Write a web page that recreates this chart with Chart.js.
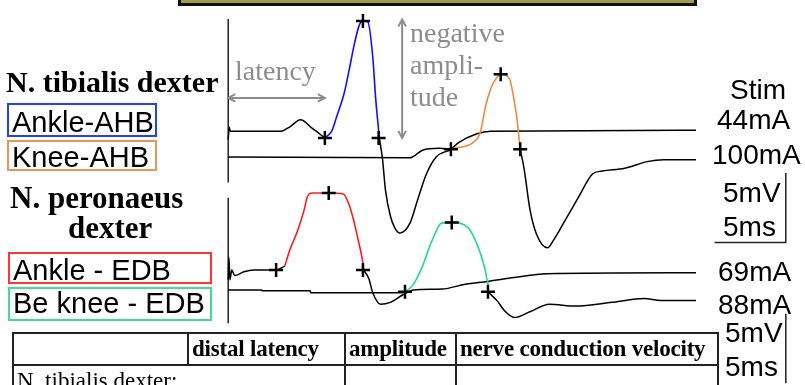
<!DOCTYPE html>
<html>
<head>
<meta charset="utf-8">
<script src="https://cdn.jsdelivr.net/npm/chart.js@4.4.1/dist/chart.umd.min.js"></script>
<style>
  body { margin: 0; background: #fff; }
  #wrap { position: relative; width: 805px; height: 385px; overflow: hidden; background: #fff; }
  #traces { position: absolute; left: 0; top: 0; }
  .t { position: absolute; white-space: nowrap; line-height: 1; }
  .sans { font-family: 'Liberation Sans', Arial, sans-serif; font-size: 28px; color: #000; }
  .serif { font-family: 'Liberation Serif', 'Times New Roman', serif; }
  .title { font-weight: bold; font-size: 30px; color: #000; }
  .note { font-size: 28px; color: #8c8c8c; }
  .box { position: absolute; box-sizing: border-box; border: 2px solid; padding-left: 3px;
         font-family: 'Liberation Sans', Arial, sans-serif; font-size: 29px; white-space: nowrap; }
  #banner { position: absolute; left: 178px; top: -14px; width: 519px; height: 20px; box-sizing: border-box;
            border: 3px solid #111; background: #a39b4c; }
  table { position: absolute; left: 12px; top: 332px; border-collapse: collapse; table-layout: fixed;
          font-family: 'Liberation Serif', 'Times New Roman', serif; font-size: 23px; }
  td { border: 2px solid #222; height: 30px; padding: 0 0 0 3px; white-space: nowrap; overflow: hidden; }
  thead td { font-weight: bold; letter-spacing: -0.2px; }
</style>
</head>
<body>
<div id="wrap">
  <canvas id="traces" width="805" height="385"></canvas>
  <div id="banner"></div>

  <div class="t serif title" style="left:6px; top:67px;">N. tibialis dexter</div>
  <div class="t serif title" style="left:10px; top:182px; font-size:31px;">N. peronaeus</div>
  <div class="t serif title" style="left:68px; top:212px; font-size:31px;">dexter</div>

  <div class="t serif note" style="left:235px; top:57px;">latency</div>
  <div class="t serif note" style="left:410px; top:17px; line-height:32px;">negative<br>ampli-<br>tude</div>

  <div class="box" style="left:7px; top:103px; width:150px; height:34px; border-color:#2040ff; line-height:34px;">Ankle-AHB</div>
  <div class="box" style="left:7px; top:140px; width:150px; height:31px; border-color:#e8955a; line-height:30px;">Knee-AHB</div>
  <div class="box" style="left:8px; top:252px; width:204px; height:32px; border-color:#ff3535; line-height:32px;">Ankle - EDB</div>
  <div class="box" style="left:8px; top:287px; width:204px; height:34px; border-color:#3fdc95; line-height:28px;">Be knee - EDB</div>

  <div id="rightLabels"></div>

  <table id="results">
    <colgroup><col style="width:175px"><col style="width:157px"><col style="width:111px"><col style="width:262px"></colgroup>
    <thead><tr id="headRow"></tr></thead>
    <tbody><tr><td colspan="2">N. tibialis dexter:</td><td></td><td></td></tr></tbody>
  </table>
</div>

<script>
// time in ms after the stimulus, voltage in mV (traces stacked, negative up)
const tibAnklePre  = [[0,16.99],[0.07,17.9],[0.14,17.6],[3.7,17.6],[4.3,17.9],[5.07,18.42],[5.9,17.8],[6.78,17.12]];
const tibAnkleResp = [[6.78,17.12],[7.26,17.6],[7.6,18.63],[8.15,20.41],[8.49,22.05],[8.84,23.84],[9.18,25.21],[9.45,25.55],[9.79,25.48],[10.14,22.95],[10.34,20.0],[10.55,17.67],[10.6,17.12]];
const tibAnklePost = [[10.6,17.12],[10.82,15.62],[11.03,13.36],[11.37,11.51],[11.7,10.6],[12.05,10.27],[12.74,10.96],[13.29,12.67],[13.9,14.52],[14.59,15.75],[15.62,16.3],[16.16,16.78],[17.4,17.4],[18.42,17.6],[32.81,17.67]];

const tibKneePre  = [[0,15.75],[12.74,15.68],[13.63,16.23],[14.79,16.37],[15.62,16.3]];
const tibKneeResp = [[15.62,16.3],[17.4,16.99],[17.67,17.47],[18.08,19.52],[18.42,20.68],[18.77,21.37],[19.11,21.71],[19.73,21.37],[20.07,19.73],[20.27,18.36],[20.41,16.99],[20.48,16.3]];
const tibKneePost = [[20.48,16.3],[20.75,14.93],[21.16,11.99],[21.64,10.14],[22.4,9.2],[22.81,9.73],[23.7,11.3],[24.59,12.88],[25.55,14.52],[26.23,14.73],[27.81,14.93],[29.38,15.41],[30.55,15.55],[32.81,15.55]];

const perAnklePre  = [[0,6.9],[0.05,8.5],[0.12,6.9],[0.25,7.6],[0.45,7.2],[1.1,7.47],[1.78,7.6],[3.36,7.6],[3.97,7.88]];
const perAnkleResp = [[3.97,7.88],[4.32,9.04],[4.86,10.41],[5.34,11.99],[5.55,12.88],[5.89,13.15],[7.05,13.15],[8.08,13.08],[8.42,12.47],[8.77,11.3],[9.11,9.79],[9.45,8.08],[9.5,7.6]];
const perAnklePost = [[9.5,7.6],[9.86,6.99],[10.14,5.96],[10.68,5.14],[11.37,5.27],[12.26,5.82],[13.0,6.16],[15.0,6.23],[16.64,6.58],[18.22,6.78],[20.07,7.06],[22.33,7.33],[32.81,7.4]];

const perKneePre  = [[0,6.16],[2.33,6.16],[2.4,6.1],[5.75,6.1],[5.8,5.96],[12.26,5.96]];
const perKneeResp = [[12.26,5.96],[12.95,6.51],[13.63,7.88],[14.11,9.25],[14.59,10.41],[14.93,10.96],[15.68,11.03],[16.85,10.62],[17.53,9.25],[18.01,7.67],[18.22,6.71],[18.22,6.03]];
const perKneePost = [[18.22,6.03],[18.9,5.34],[19.38,4.66],[20.07,4.18],[21.16,4.59],[22.53,5.14],[24.38,5.0],[26.92,5.27],[29.18,5.55],[30.34,5.41],[32.81,5.41]];

// onset / peak / end markers
const markers = [[6.78,17.12],[9.45,25.55],[10.55,17.12],[15.62,16.3],[19.11,21.71],[20.48,16.3],
                 [3.36,7.6],[7.05,13.15],[9.45,7.6],[12.4,6.03],[15.68,11.03],[18.22,6.03]];

// stimulus time lines for the two panels
const stimUpper = [[0,25.68],[0,13.9]];
const stimLower = [[0,12.81],[0,3.77]];

const stimCurrents = ['44mA', '100mA', '69mA', '88mA'];
const tableHeader = ['', 'distal latency', 'amplitude', 'nerve conduction velocity'];

// right-hand labels
const labelPos = [
  ['Stim', 730, 76], [stimCurrents[0], 717, 106], [stimCurrents[1], 712, 141],
  ['5mV', 723, 179], ['5ms', 723, 213],
  [stimCurrents[2], 718, 258], [stimCurrents[3], 718, 291],
  ['5mV', 725, 319], ['5ms', 725, 353]
];
const rl = document.getElementById('rightLabels');
labelPos.forEach(([txt, x, y]) => {
  const d = document.createElement('div');
  d.className = 't sans';
  d.style.left = x + 'px';
  d.style.top = y + 'px';
  d.textContent = txt;
  rl.appendChild(d);
});
const hr = document.getElementById('headRow');
tableHeader.forEach(h => {
  const td = document.createElement('td');
  td.textContent = h;
  hr.appendChild(td);
});

function trace(data, color, width, order) {
  return { data: data, borderColor: color, borderWidth: width, showLine: true,
           pointRadius: 0, cubicInterpolationMode: 'monotone', order: order, clip: false };
}

// arrows and scale bars drawn in data units
const annotPlugin = {
  id: 'annot',
  afterDatasetsDraw(chart) {
    const ctx = chart.ctx;
    const xs = chart.scales.x, ys = chart.scales.y;
    function arrowHead(x, y, ang) {
      const s = 8;
      ctx.beginPath();
      ctx.moveTo(x + s * Math.cos(ang + 0.5), y + s * Math.sin(ang + 0.5));
      ctx.lineTo(x, y);
      ctx.lineTo(x + s * Math.cos(ang - 0.5), y + s * Math.sin(ang - 0.5));
      ctx.stroke();
    }
    function dblArrow(x1, y1, x2, y2) {
      const a = xs.getPixelForValue(x1), b = ys.getPixelForValue(y1);
      const c = xs.getPixelForValue(x2), d = ys.getPixelForValue(y2);
      ctx.beginPath(); ctx.moveTo(a, b); ctx.lineTo(c, d); ctx.stroke();
      const ang = Math.atan2(d - b, c - a);
      arrowHead(a, b, ang);
      arrowHead(c, d, ang + Math.PI);
    }
    ctx.save();
    ctx.strokeStyle = '#8c8c8c';
    ctx.lineWidth = 2;
    // latency: stimulus to onset
    dblArrow(0, 20.0, tibAnkleResp[0][0], 20.0);
    // negative amplitude: onset level to peak
    dblArrow(12.2, markers[1][1] + 0.1, 12.2, markers[0][1]);
    // scale bars 5 ms / 5 mV
    ctx.strokeStyle = '#222';
    ctx.lineWidth = 1.5;
    const bx = xs.getPixelForValue(39.11);
    ctx.beginPath();
    ctx.moveTo(xs.getPixelForValue(39.11 - 5), ys.getPixelForValue(9.59));
    ctx.lineTo(bx, ys.getPixelForValue(9.59));
    ctx.lineTo(bx, ys.getPixelForValue(9.59 + 5));
    ctx.moveTo(bx, ys.getPixelForValue(-0.55));
    ctx.lineTo(bx, ys.getPixelForValue(-0.55 + 5));
    ctx.stroke();
    ctx.restore();
  }
};

new Chart(document.getElementById('traces'), {
  type: 'scatter',
  data: {
    datasets: [
      { data: markers, pointStyle: 'cross', pointRadius: 7, borderWidth: 2.5,
        borderColor: '#000', backgroundColor: '#000', showLine: false, order: -1, clip: false },
      trace(tibAnkleResp, '#1010ff', 1.6, 0),
      trace(tibKneeResp, '#ec8a45', 1.6, 0),
      trace(perAnkleResp, '#ff1a1a', 1.6, 0),
      trace(perKneeResp, '#25d98a', 1.6, 0),
      trace(tibAnklePre, '#000', 1.5, 1),
      trace(tibAnklePost, '#000', 1.5, 1),
      trace(tibKneePre, '#000', 1.5, 1),
      trace(tibKneePost, '#000', 1.5, 1),
      trace(perAnklePre, '#000', 1.5, 1),
      trace(perAnklePost, '#000', 1.5, 1),
      trace(perKneePre, '#000', 1.5, 1),
      trace(perKneePost, '#000', 1.5, 1),
      trace(stimUpper, '#222', 1.5, 1),
      trace(stimLower, '#222', 1.5, 1)
    ]
  },
  options: {
    responsive: false,
    animation: false,
    layout: { padding: 0 },
    plugins: { legend: { display: false }, tooltip: { enabled: false } },
    scales: {
      x: { type: 'linear', display: false, min: -15.34, max: 39.79 },
      y: { type: 'linear', display: false, min: 0, max: 26.37 }
    }
  },
  plugins: [annotPlugin]
});
</script>
</body>
</html>
